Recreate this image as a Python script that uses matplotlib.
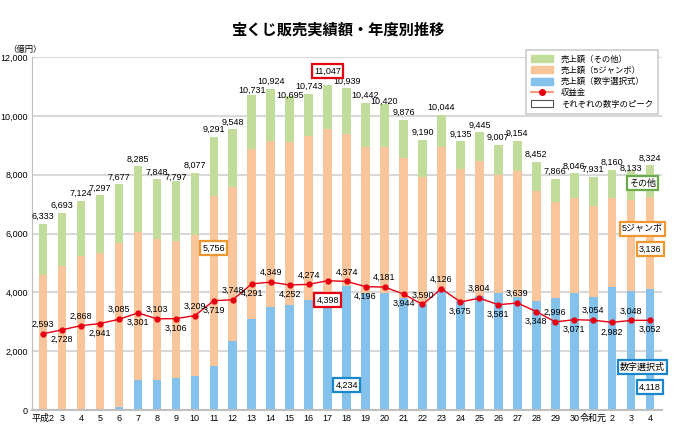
import matplotlib
matplotlib.use("Agg")
from matplotlib import pyplot as plt
from matplotlib.patches import Patch, Rectangle
from matplotlib.lines import Line2D

plt.rcParams["font.family"] = ["Liberation Sans", "Noto Sans CJK JP", "DejaVu Sans"]

years = ["平成2", "3", "4", "5", "6", "7", "8", "9", "10", "11", "12", "13", "14", "15",
         "16", "17", "18", "19", "20", "21", "22", "23", "24", "25", "26", "27", "28",
         "29", "30", "令和元", "2", "3", "4"]
total = [6333, 6693, 7124, 7297, 7677, 8285, 7848, 7797, 8077, 9291, 9548, 10731, 10924,
         10695, 10743, 11047, 10939, 10442, 10420, 9876, 9190, 10044, 9135, 9445, 9007,
         9154, 8452, 7866, 8046, 7931, 8160, 8133, 8324]
suuji = [0, 0, 0, 0, 90, 1020, 1020, 1090, 1170, 1510, 2350, 3110, 3500, 3570, 3740,
         3470, 4234, 3990, 3990, 3800, 3595, 4080, 3720, 3880, 3970, 3830, 3720, 3800,
         3970, 3830, 4170, 4060, 4118]
jumbo = [4600, 4900, 5230, 5330, 5580, 5050, 4800, 4660, 4780, 5756, 5250, 5770, 5650,
         5560, 5570, 6080, 5150, 4940, 4940, 4780, 4340, 4850, 4470, 4590, 4020, 4300,
         3730, 3260, 3230, 3120, 3030, 3080, 3136]
shueki = [2593, 2728, 2868, 2941, 3085, 3301, 3103, 3106, 3209, 3719, 3748, 4291, 4349,
          4252, 4274, 4398, 4374, 4196, 4181, 3944, 3590, 4126, 3675, 3804, 3581, 3639,
          3348, 2996, 3071, 3054, 2982, 3048, 3052]
label_above = [1, 0, 1, 0, 1, 0, 1, 0, 1, 0, 1, 0, 1, 0, 1, 0, 1, 0, 1, 0, 1, 1, 0, 1,
               0, 1, 0, 1, 0, 1, 0, 1, 0]

GREEN = "#c2dd9b"
ORANGE = "#f9c59b"
BLUE = "#84c1eb"
RED = "#e60012"

sonota = [t - s - j for t, s, j in zip(total, suuji, jumbo)]
x = list(range(len(years)))

fig = plt.figure(figsize=(6.77, 4.30), dpi=100)
ax = fig.add_axes([0.0473, 0.0465, 0.9307, 0.8205])

W = 0.45
ax.bar(x, suuji, W, color=BLUE, zorder=2)
ax.bar(x, jumbo, W, bottom=suuji, color=ORANGE, zorder=2)
ax.bar(x, sonota, W, bottom=[s + j for s, j in zip(suuji, jumbo)], color=GREEN, zorder=2)
ax.plot(x, shueki, color=RED, lw=1.0, marker="o", ms=3.5, zorder=4)

# 合計の数字（隣と重なるところは少しずらす）
shift = {7: -120, 11: -120, 13: -250, 18: -180, 31: -150}
for i, t in enumerate(total):
    if i == 15:
        continue
    ax.text(i, t + 100 + shift.get(i, 0), f"{t:,}", ha="center", va="bottom",
            fontsize=6.5, zorder=5)

for i, v in enumerate(shueki):
    if i == 15:
        continue
    if label_above[i]:
        ax.text(i, v + 170, f"{v:,}", ha="center", va="bottom", fontsize=6.5, zorder=5)
    else:
        ax.text(i, v - 170, f"{v:,}", ha="center", va="top", fontsize=6.5, zorder=5)


def boxed(xp, yp, s, ec):
    ax.text(xp, yp, s, ha="center", va="center", fontsize=6.5, zorder=6,
            bbox=dict(boxstyle="square,pad=0.25", fc="white", ec=ec, lw=1.6))


boxed(15, 11530, "11,047", RED)
boxed(15, 3740, "4,398", RED)
boxed(9, 5510, "5,756", "#f0962e")
boxed(16, 850, "4,234", "#1a86cc")
boxed(31.6, 7720, "その他", "#6aab4a")
boxed(31.6, 6150, "5ジャンボ", "#f0962e")
boxed(32, 5480, "3,136", "#f0962e")
boxed(31.6, 1460, "数字選択式", "#1a86cc")
boxed(32, 780, "4,118", "#1a86cc")

ax.set_xlim(-0.58, 32.63)
ax.set_ylim(0, 12000)
ax.set_yticks(range(0, 12001, 2000))
ax.set_yticklabels([f"{v:,}" for v in range(0, 12001, 2000)], fontsize=6.5)
ax.set_xticks(x)
ax.set_xticklabels(years, fontsize=6.5)
ax.tick_params(length=0, pad=3)
ax.grid(axis="y", color="#d9d9d9", lw=1.5, zorder=0)
for side in ["top", "right"]:
    ax.spines[side].set_visible(False)
ax.spines["left"].set_color("#bfbfbf")
ax.spines["bottom"].set_color("#bfbfbf")
ax.spines["bottom"].set_linewidth(1.5)

fig.text(0.012, 0.875, "（億円）", fontsize=6, ha="left", va="bottom")
fig.text(0.5, 0.93, "宝くじ販売実績額・年度別推移", fontsize=11, fontweight="bold",
         ha="center", va="center")

handles = [
    Patch(color=GREEN, label="売上額（その他）"),
    Patch(color=ORANGE, label="売上額（5ジャンボ）"),
    Patch(color=BLUE, label="売上額（数字選択式）"),
    Line2D([], [], color="#f08060", marker="o", mfc=RED, mec=RED, ms=4, lw=1.2,
           label="収益金"),
    Rectangle((0, 0), 1, 1, fc="white", ec="#555555", lw=0.8,
              label="それぞれの数字のピーク"),
]
leg = fig.legend(handles=handles, loc="upper left", bbox_to_anchor=(0.771, 0.893),
                 fontsize=6, frameon=True, fancybox=False, edgecolor="#cccccc",
                 framealpha=1, handlelength=2.6, handleheight=0.9,
                 labelspacing=0.35, borderpad=0.6, handletextpad=1.0)
leg.get_frame().set_linewidth(1.2)
leg.set_zorder(10)

fig.savefig("out.png", dpi=100)
